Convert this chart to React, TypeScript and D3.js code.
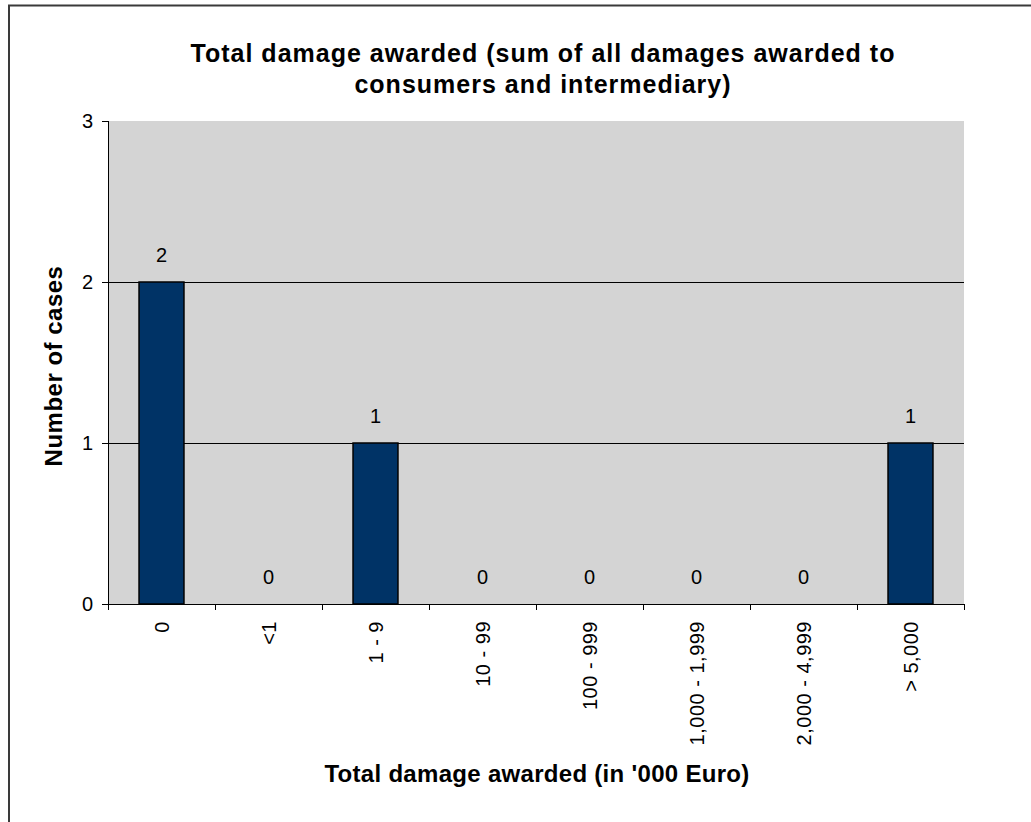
import React from "react";
import * as d3 from "d3";

// Damage bands (in '000 Euro) and number of cases in each band
const categories: string[] = ["0", "<1", "1 - 9", "10 - 99", "100 - 999", "1,000 - 1,999", "2,000 - 4,999", "> 5,000"];
const cases: number[] = [2, 0, 1, 0, 0, 0, 0, 1];
const yTicks: number[] = [0, 1, 2, 3];
const titleLines: string[] = [
  "Total damage awarded (sum of all damages awarded to",
  "consumers and intermediary)",
];
const xAxisTitle = "Total damage awarded (in '000 Euro)";
const yAxisTitle = "Number of cases";

const W = 1031;
const H = 822;
const plot = { left: 108, right: 964, top: 121, bottom: 604 };
const FONT = "'Liberation Sans', Arial, Helvetica, sans-serif";

export default function App() {
  const xCat = d3.scaleBand<string>().domain(categories).range([plot.left, plot.right]).padding(0);
  const xBar = d3
    .scaleBand<string>()
    .domain(categories)
    .range([plot.left, plot.right])
    .paddingInner(0.58)
    .paddingOuter(0.29);
  const y = d3.scaleLinear().domain([0, 3]).range([plot.bottom, plot.top]);

  const boundaries = [...categories.map((c) => xCat(c) as number), plot.right];
  const titleCx = 543;
  const px = (v: number) => Math.round(v) + 0.5;

  return (
    <svg
      width={W}
      height={H}
      style={{ position: "absolute", left: 0, top: 0, background: "#ffffff" }}
      fontFamily={FONT}
    >
      {/* chart frame */}
      <rect x={9} y={5.5} width={W + 20} height={H + 20} fill="none" stroke="#3a3a3a" strokeWidth={2} />

      {/* title */}
      <text
        x={titleCx}
        textAnchor="middle"
        fontWeight="bold"
        fontSize={25}
        letterSpacing={1}
        fill="#000"
      >
        {titleLines.map((t, i) => (
          <tspan key={i} x={titleCx} y={62 + i * 31}>
            {t}
          </tspan>
        ))}
      </text>

      {/* plot area */}
      <rect
        x={plot.left}
        y={plot.top}
        width={plot.right - plot.left}
        height={plot.bottom - plot.top}
        fill="#d4d4d4"
      />

      {/* gridlines */}
      {yTicks
        .filter((t) => t > 0 && t < 3)
        .map((t) => (
          <line key={t} x1={plot.left} x2={plot.right} y1={px(y(t))} y2={px(y(t))} stroke="#000" strokeWidth={1} />
        ))}

      {/* bars */}
      {categories.map((c, i) =>
        cases[i] > 0 ? (
          <rect
            key={c}
            x={xBar(c)}
            y={y(cases[i])}
            width={xBar.bandwidth()}
            height={y(0) - y(cases[i])}
            fill="#003366"
            stroke="#000"
            strokeWidth={1.5}
          />
        ) : null
      )}

      {/* data labels */}
      {categories.map((c, i) => (
        <text
          key={c}
          x={(xCat(c) as number) + xCat.bandwidth() / 2}
          y={y(cases[i]) - 20}
          textAnchor="middle"
          fontSize={20}
          fill="#000"
        >
          {cases[i]}
        </text>
      ))}

      {/* y axis */}
      <line x1={px(plot.left)} x2={px(plot.left)} y1={plot.top} y2={plot.bottom} stroke="#000" strokeWidth={1} />
      {yTicks.map((t) => (
        <g key={t}>
          <line x1={plot.left - 6} x2={plot.left} y1={px(y(t))} y2={px(y(t))} stroke="#000" strokeWidth={1} />
          <text x={93} y={y(t) + 7} textAnchor="end" fontSize={20} fill="#000">
            {t}
          </text>
        </g>
      ))}

      {/* x axis */}
      <line x1={plot.left} x2={plot.right} y1={px(plot.bottom)} y2={px(plot.bottom)} stroke="#000" strokeWidth={1} />
      {boundaries.map((bx, i) => (
        <line key={i} x1={px(bx)} x2={px(bx)} y1={plot.bottom} y2={plot.bottom + 6} stroke="#000" strokeWidth={1} />
      ))}
      {categories.map((c) => {
        const cx = (xCat(c) as number) + xCat.bandwidth() / 2;
        return (
          <text
            key={c}
            transform={`translate(${cx + 7.5},621) rotate(-90)`}
            textAnchor="end"
            fontSize={20}
            letterSpacing={0.5}
            fill="#000"
          >
            {c}
          </text>
        );
      })}

      {/* axis titles */}
      <text x={537} y={782} textAnchor="middle" fontWeight="bold" fontSize={24} letterSpacing={0.3} fill="#000">
        {xAxisTitle}
      </text>
      <text
        transform="translate(61.5,366) rotate(-90)"
        textAnchor="middle"
        fontWeight="bold"
        fontSize={24}
        letterSpacing={0.5}
        fill="#000"
      >
        {yAxisTitle}
      </text>
    </svg>
  );
}
